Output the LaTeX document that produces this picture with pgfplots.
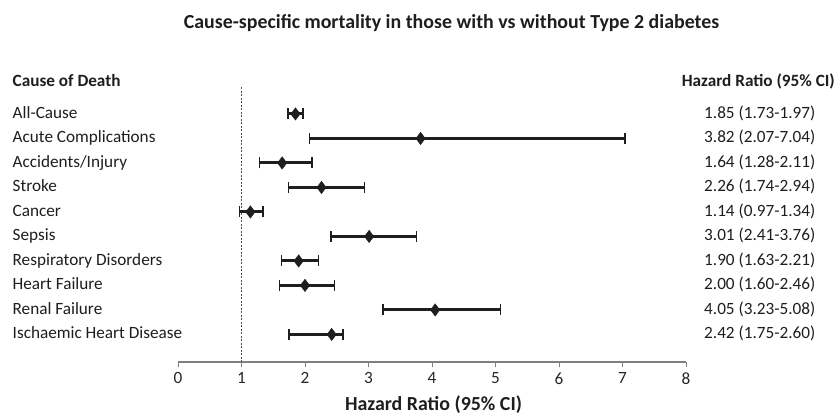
\documentclass[border=0pt]{standalone}
\usepackage{fontspec}
\setmainfont{Carlito}
\usepackage{pgfplots}
\pgfplotsset{compat=1.18}
\usepackage{pgfplotstable}
\pgfplotstableread{
row hr lo hi
1 1.85 1.73 1.97
2 3.82 2.07 7.04
3 1.64 1.28 2.11
4 2.26 1.74 2.94
5 1.14 0.97 1.34
6 3.01 2.41 3.76
7 1.90 1.63 2.21
8 2.00 1.60 2.46
9 4.05 3.23 5.08
10 2.42 1.75 2.60
}\data
\definecolor{ink}{HTML}{1E1E1E}
\begin{document}
\begin{tikzpicture}[font=\fontsize{17.2bp}{20bp}\selectfont]
\path[use as bounding box] (0,0) rectangle (837bp,416bp);
\begin{axis}[
  at={(178bp,54bp)}, anchor=south west,
  scale only axis, width=508bp, height=275bp,
  xmin=0, xmax=8, ymin=-0.1, ymax=11.125, y dir=reverse,
  axis x line*=bottom, axis y line=none,
  xtick={0,1,...,8},
  tick align=outside, major tick length=5bp,
  x axis line style={draw=gray, line width=1.1bp},
  xtick style={draw=gray, line width=1bp},
  xticklabel style={text=black!85, font=\fontsize{17.2bp}{20bp}\selectfont, yshift=-2bp},
  /pgf/number format/assume math mode=true,
  clip=false,
]
\addplot[black!70, line width=0.8bp, dash pattern=on 2bp off 1.5bp] coordinates {(1,-0.1) (1,11.125)};
\addplot[only marks, mark=diamond*, mark size=6.2bp, mark options={fill=ink, draw=ink},
  error bars/.cd, x dir=both, x explicit, error mark=|,
  error bar style={line width=3bp, ink},
  error mark options={line width=1.4bp, mark size=5.5bp, ink}]
  table[x=hr, y=row, x error plus expr=\thisrow{hi}-\thisrow{hr}, x error minus expr=\thisrow{hr}-\thisrow{lo}] {\data};
\end{axis}
\node[anchor=base, inner sep=0, font=\fontsize{19.9bp}{24bp}\selectfont\bfseries, text=ink] at (451.5bp,387bp) {Cause-specific mortality in those with vs without Type 2 diabetes};
\node[anchor=base west, inner sep=0, font=\fontsize{17.2bp}{20bp}\selectfont\bfseries, text=ink] at (12.5bp,329bp) {Cause of Death};
\node[anchor=base east, inner sep=0, font=\fontsize{17.2bp}{20bp}\selectfont\bfseries, text=ink] at (835bp,329bp) {Hazard Ratio (95\% CI)};
\foreach \t [count=\i] in {All-Cause,Acute Complications,Accidents/Injury,Stroke,Cancer,Sepsis,Respiratory Disorders,Heart Failure,Renal Failure,Ischaemic Heart Disease}{
  \pgfmathsetmacro\yy{297.7-24.5*(\i-1)}
  \node[anchor=base west, inner sep=0, text=ink] at (12.5bp,\yy bp) {\t};
}
\foreach \t [count=\i] in {1.85 (1.73-1.97),3.82 (2.07-7.04),1.64 (1.28-2.11),2.26 (1.74-2.94),1.14 (0.97-1.34),3.01 (2.41-3.76),1.90 (1.63-2.21),2.00 (1.60-2.46),4.05 (3.23-5.08),2.42 (1.75-2.60)}{
  \pgfmathsetmacro\yy{297.7-24.5*(\i-1)}
  \node[anchor=base west, inner sep=0, text=ink] at (704bp,\yy bp) {\t};
}
\node[anchor=base, inner sep=0, font=\fontsize{19.9bp}{24bp}\selectfont\bfseries, text=ink] at (433.5bp,5.5bp) {Hazard Ratio (95\% CI)};
\end{tikzpicture}
\end{document}
